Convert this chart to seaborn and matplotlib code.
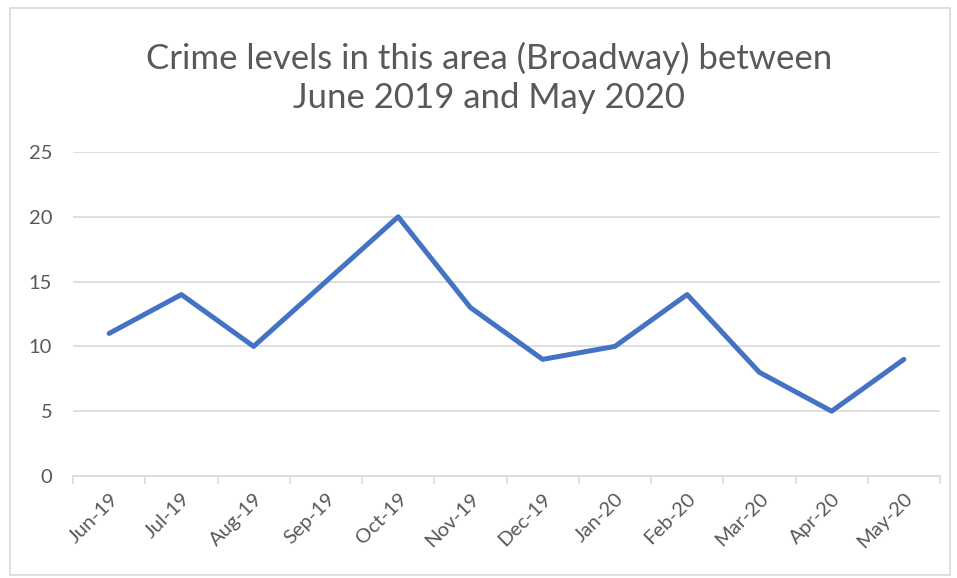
import pandas as pd
import numpy as np
import matplotlib.pyplot as plt
import seaborn as sns
from matplotlib.patches import Rectangle

# Chart data
months = ["Jun-19", "Jul-19", "Aug-19", "Sep-19", "Oct-19", "Nov-19",
          "Dec-19", "Jan-20", "Feb-20", "Mar-20", "Apr-20", "May-20"]
crimes = [11, 14, 10, 15, 20, 13, 9, 10, 14, 8, 5, 9]
y_ticks = [0, 5, 10, 15, 20, 25]

sns.set_theme(style="white")
plt.rcParams["font.family"] = ["Lato", "DejaVu Sans"]

GRID = "#d9d9d9"
TEXT = "#595959"
LINE = "#4472C4"

W, H = 957, 578
fig = plt.figure(figsize=(W / 100, H / 100), dpi=100)
fig.patch.set_facecolor("white")

# Excel-like chart border
fig.add_artist(Rectangle((10 / W, 3 / H), 940 / W, 567 / H, transform=fig.transFigure,
                         fill=False, edgecolor=GRID, linewidth=1.2))

ax = fig.add_axes([73 / W, (H - 476) / H, (940 - 73) / W, (476 - 152) / H])

df = pd.DataFrame({"month": months, "crimes": crimes})
sns.lineplot(data=df, x="month", y="crimes", sort=False, color=LINE,
             linewidth=3.6, ax=ax)

ax.set_xlim(-0.5, len(months) - 0.5)
ax.set_ylim(0, 25)
ax.set_yticks(y_ticks)
ax.set_xticks(range(len(months)))
ax.set_xticklabels(months, rotation=45, ha="right", rotation_mode="anchor")
ax.set_xticks(np.arange(-0.5, len(months)), minor=True)
ax.set_xlabel("")
ax.set_ylabel("")

ax.grid(axis="y", color=GRID, linewidth=1.2)
ax.grid(axis="x", visible=False)
ax.set_axisbelow(True)
for side in ["top", "right", "left"]:
    ax.spines[side].set_visible(False)
ax.spines["bottom"].set_color(GRID)
ax.spines["bottom"].set_linewidth(1.2)

ax.tick_params(axis="x", which="major", bottom=False, length=0, pad=10,
               labelsize=14.5, labelcolor=TEXT)
ax.tick_params(axis="x", which="minor", bottom=True, length=6, width=1.2, color=GRID)
ax.tick_params(axis="y", length=0, pad=15, labelsize=14.5, labelcolor=TEXT)

fig.text(489 / W, 1 - 78 / H, "Crime levels in this area (Broadway) between\nJune 2019 and May 2020",
         ha="center", va="center", fontsize=25, color=TEXT, linespacing=1.3)

fig.savefig("out.png", dpi=100)
